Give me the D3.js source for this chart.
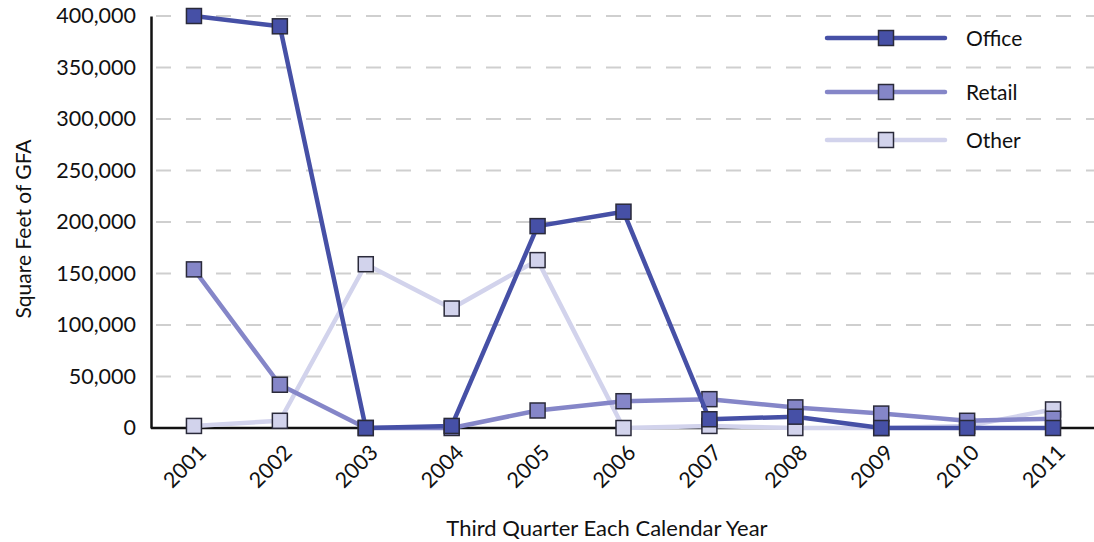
<!DOCTYPE html>
<html>
<head>
<meta charset="utf-8">
<script src="https://cdn.jsdelivr.net/npm/d3@7"></script>
<style>
  body { margin: 0; background: #fff; }
  text { font-family: Lato, "Noto Sans", sans-serif; fill: #111; }
</style>
</head>
<body>
<svg id="chart" width="1094" height="542"></svg>
<script>
/* data */
var years = ["2001", "2002", "2003", "2004", "2005", "2006", "2007", "2008", "2009", "2010", "2011"];
var office = [400000, 390000, 0, 2000, 196000, 210000, 8500, 11000, 0, 0, 0];
var retail = [154000, 42000, 0, 0, 17000, 26000, 28000, 20000, 14000, 7000, 9000];
var other = [2000, 7000, 159000, 116000, 163000, 0, 2000, 0, 0, 2000, 18000];
var yTicks = [0, 50000, 100000, 150000, 200000, 250000, 300000, 350000, 400000];

var series = [
  {name: "Other", values: other, color: "#d2d3ec", legendY: 140},
  {name: "Retail", values: retail, color: "#8586c8", legendY: 92},
  {name: "Office", values: office, color: "#4650a6", legendY: 38}
];

var svg = d3.select("#chart");

var x = d3.scalePoint().domain(years).range([151, 1096]).padding(0.5);
var y = d3.scaleLinear().domain([0, 400000]).range([428, 16]);

// grid
svg.append("g")
  .selectAll("line")
  .data(yTicks.slice(1))
  .enter().append("line")
  .attr("x1", 156).attr("x2", 1094)
  .attr("y1", function(d){return y(d);})
  .attr("y2", function(d){return y(d);})
  .attr("stroke", "#cfcfcf")
  .attr("stroke-width", 2)
  .attr("stroke-dasharray", "15,15");

// axes
var yAxis = svg.append("g")
  .attr("transform", "translate(151,0)")
  .call(d3.axisLeft(y).tickValues(yTicks).tickFormat(d3.format(",")).tickSize(0).tickPadding(15));
yAxis.select(".domain").attr("stroke", "#111").attr("stroke-width", 2.5);
yAxis.selectAll("text").attr("font-size", 21.5).style("font-family", "Lato, 'Noto Sans', sans-serif").attr("fill", "#111");

var xAxis = svg.append("g")
  .attr("transform", "translate(0,428)")
  .call(d3.axisBottom(x).tickSize(0));
xAxis.select(".domain").attr("d", "M151,0H1094").attr("stroke", "#111").attr("stroke-width", 2.5);
xAxis.selectAll("text")
  .attr("font-size", 21.5)
  .style("font-family", "Lato, 'Noto Sans', sans-serif")
  .attr("fill", "#111")
  .attr("text-anchor", "end")
  .attr("dy", null)
  .attr("y", 0)
  .attr("transform", "translate(13,26) rotate(-45)");

// axis titles
svg.append("text")
  .attr("transform", "translate(31,229) rotate(-90)")
  .attr("text-anchor", "middle")
  .attr("font-size", 21)
  .text("Square Feet of GFA");

svg.append("text")
  .attr("x", 607).attr("y", 536)
  .attr("text-anchor", "middle")
  .attr("font-size", 22)
  .text("Third Quarter Each Calendar Year");

// lines
var line = d3.line()
  .x(function(d, i){return x(years[i]);})
  .y(function(d){return y(d);});

series.forEach(function(s){
  svg.append("path")
    .datum(s.values)
    .attr("d", line)
    .attr("fill", "none")
    .attr("stroke", s.color)
    .attr("stroke-width", 4.5)
    .attr("stroke-linejoin", "round");
  svg.append("g")
    .selectAll("rect")
    .data(s.values)
    .enter().append("rect")
    .attr("x", function(d, i){return x(years[i]) - 7.5;})
    .attr("y", function(d){return y(d) - 7.5;})
    .attr("width", 15).attr("height", 15)
    .attr("fill", s.color)
    .attr("stroke", "#2a2a3a")
    .attr("stroke-width", 1.5);
});

// legend
var legend = svg.append("g");
series.forEach(function(s){
  legend.append("line")
    .attr("x1", 827).attr("x2", 945)
    .attr("y1", s.legendY).attr("y2", s.legendY)
    .attr("stroke", s.color)
    .attr("stroke-width", 4.5)
    .attr("stroke-linecap", "round");
  legend.append("rect")
    .attr("x", 878.5).attr("y", s.legendY - 7.5)
    .attr("width", 15).attr("height", 15)
    .attr("fill", s.color)
    .attr("stroke", "#2a2a3a")
    .attr("stroke-width", 1.5);
  legend.append("text")
    .attr("x", 966).attr("y", s.legendY + 8)
    .attr("font-size", 21)
    .text(s.name);
});
</script>
</body>
</html>
